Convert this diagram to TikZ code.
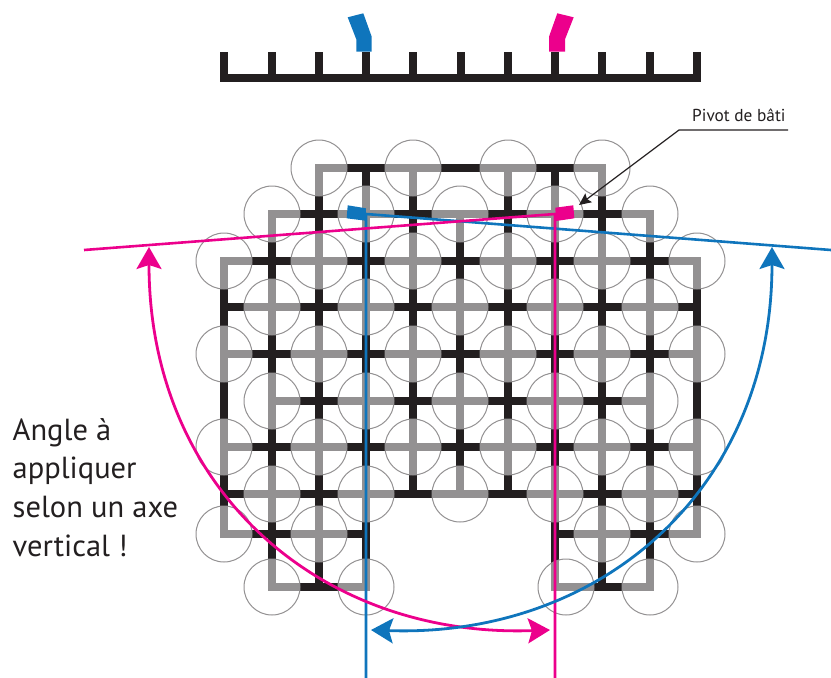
\documentclass[tikz,border=0pt]{standalone}
\usepackage{fontspec}
\setmainfont{PT Sans}
\usetikzlibrary{arrows.meta}
\definecolor{blackbar}{HTML}{231F20}
\definecolor{greybar}{HTML}{939192}
\definecolor{bleu}{HTML}{0F75BC}
\definecolor{rose}{HTML}{EC008C}
\tikzstyle{bar}=[line width=8pt, line cap=rect, line join=miter]
\tikzstyle{roller}=[draw=greybar, line width=1pt]
\tikzstyle{line}=[line width=2.6pt]
\tikzstyle{swing}=[line width=2.8pt, <->, >={Stealth[length=22pt,width=25pt,inset=4pt]}]
\tikzstyle{legend}=[align=left, font=\fontsize{30.5}{38.7}\selectfont, anchor=north west, inner sep=0pt, text=blackbar]
% all the bars of the frame, in pixels
\newcommand{\framebars}{
  \foreach \yy/\xa/\xb in {168/319/602, 214/272/650, 261/224/697, 307/224/697, 354/224/697,
      401/272/650, 447/224/697, 494/224/697, 534/224/366, 534/555/697, 587/272/366, 587/555/650}
    {\draw[bar] (\xa,\yy) -- (\xb,\yy);}
  \foreach \xx/\ya/\yb in {224/261/534, 272/214/587, 319/168/587, 366/168/587, 413/168/494,
      460/214/494, 508/168/494, 555/168/587, 602/168/587, 650/214/587, 697/261/534}
    {\draw[bar] (\xx,\ya) -- (\xx,\yb);}
}
\begin{document}
\begin{tikzpicture}[x=1pt,y=-1pt]
  \useasboundingbox (0,0) rectangle (831,678);

  % comb
  \draw[bar, blackbar, line cap=butt] (220,78) -- (701,78);
  \foreach \xx in {224,272,319,366,413,461,508,555,602,650,697}
    \draw[bar, blackbar, line cap=butt] (\xx,52) -- (\xx,78);
  \fill[bleu] (347.7,17.3) -- (363.3,13.3) -- (371.7,36.7) -- (371.7,51.7) -- (356.3,51.7) -- (356.3,39.3) -- cycle;
  \fill[rose] (557.3,13.3) -- (573.7,17.3) -- (565,39.3) -- (565,51.7) -- (549,51.7) -- (549,36.7) -- cycle;

  % frame, then grey inside each roller
  \begin{scope}[blackbar]
    \framebars
  \end{scope}
  \foreach \cx/\cy in {319/168,413/168,508/168,602/168,
      272/214,366/214,460/214,555/214,650/214,
      224/261,319/261,413/261,508/261,602/261,697/261,
      272/307,366/307,460/307,555/307,650/307,
      224/354,319/354,413/354,508/354,602/354,697/354,
      272/401,366/401,460/401,555/401,650/401,
      224/447,319/447,413/447,508/447,602/447,697/447,
      272/494,366/494,460/494,555/494,650/494,
      224/534,319/534,602/534,697/534,
      272/587,366/587,566/587,650/587}
  {
    \begin{scope}
      \clip (\cx,\cy) circle (28);
      \begin{scope}[greybar]
        \framebars
      \end{scope}
    \end{scope}
    \draw[roller] (\cx,\cy) circle (28);
  }

  % pivots and their lines
  \coordinate (pivotB) at (366,214);
  \coordinate (pivotR) at (555,214);
  \coordinate (endB) at (831,250);
  \coordinate (endR) at (84,250);
  \coordinate (downB) at (366,678);
  \coordinate (downR) at (555,678);
  \draw[line, bleu] (endB) -- (pivotB) -- (downB);
  \draw[line, rose] (endR) -- (pivotR) -- (downR);
  \fill[bleu] (347.7,205.3) -- (366,208.3) -- (365.7,220.7) -- (346.7,218.3) -- cycle;
  \fill[rose] (555.3,207.7) -- (573.3,205.3) -- (574.3,218.3) -- (556,221) -- cycle;

  % the two swings
  \draw[swing, rose] (149,247) .. controls (149,490) and (321,638) .. (550,630);
  \draw[swing, bleu] (772,247) .. controls (772,490) and (600,638) .. (371,630);

  % labels
  \node[legend] (angle) at (12.5,418) {Angle à\\appliquer\\selon un axe\\vertical !};
  \node[anchor=base west, inner sep=0pt, font=\fontsize{17.3}{20}\selectfont, text=blackbar] (pivot) at (692,121.5) {Pivot de bâti};
  \coordinate (knee) at (679,130);
  \coordinate (kneeEnd) at (788,130);
  \coordinate (target) at (579,205);
  \draw[blackbar, line width=1.2pt, -{Stealth[length=12pt,width=11pt,inset=2pt]}] (kneeEnd) -- (knee) -- (target);
\end{tikzpicture}
\end{document}
